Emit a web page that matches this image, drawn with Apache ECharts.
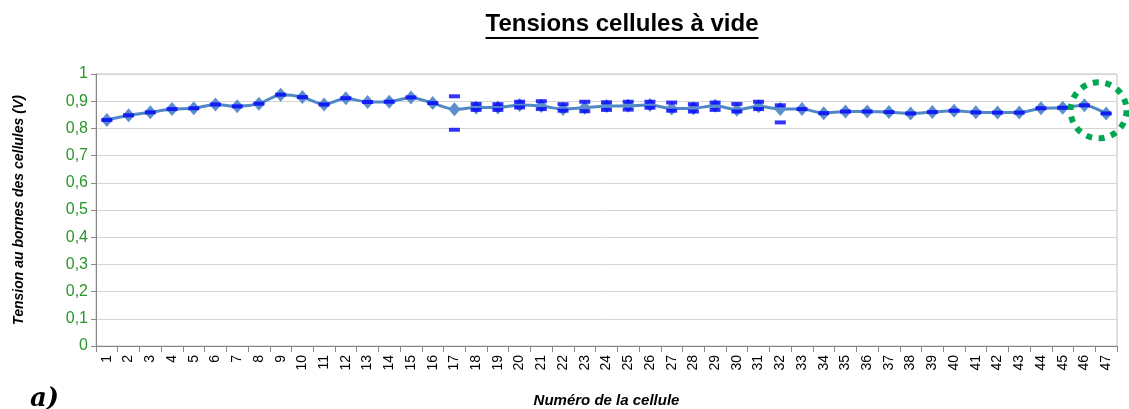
<!DOCTYPE html>
<html>
<head>
<meta charset="utf-8">
<script src="https://cdn.jsdelivr.net/npm/echarts@6/dist/echarts.min.js"></script>
<style>
  html, body { margin: 0; padding: 0; background: #fff; }
  #chart { width: 1129px; height: 409px; }
</style>
</head>
<body>
<div id="chart"></div>
<script>
// Numéros des cellules 1..47
const cellules = ['1','2','3','4','5','6','7','8','9','10','11','12','13','14','15','16','17','18','19','20','21','22','23','24','25','26','27','28','29','30','31','32','33','34','35','36','37','38','39','40','41','42','43','44','45','46','47'];

// Tension moyenne à vide par cellule (V)
const tension = [0.831,0.848,0.859,0.871,0.874,0.888,0.881,0.891,0.924,0.915,0.888,0.911,0.897,0.898,0.914,0.893,0.870,0.877,0.877,0.886,0.882,0.871,0.876,0.882,0.883,0.886,0.873,0.874,0.883,0.869,0.881,0.871,0.871,0.856,0.862,0.862,0.860,0.855,0.860,0.865,0.859,0.858,0.858,0.874,0.876,0.885,0.855];

// Mesure unique (cellules sans dispersion)
const mesure = [0.831,0.848,0.859,0.871,0.874,0.888,0.881,0.891,0.924,0.915,0.888,0.911,0.897,0.898,0.914,0.893,null,null,null,null,null,null,null,null,null,null,null,null,null,null,null,null,0.871,0.856,0.862,0.862,0.860,0.855,0.860,0.865,0.859,0.858,0.858,0.874,0.876,0.885,0.855];

// Mesures haute et basse (cellules 17 à 32)
const mesureHaute = [null,null,null,null,null,null,null,null,null,null,null,null,null,null,null,null,0.918,0.890,0.889,0.898,0.900,0.889,0.898,0.896,0.898,0.898,0.895,0.889,0.895,0.890,0.898,0.885,null,null,null,null,null,null,null,null,null,null,null,null,null,null,null];
const mesureBasse = [null,null,null,null,null,null,null,null,null,null,null,null,null,null,null,null,0.795,0.868,0.868,0.877,0.871,0.865,0.863,0.868,0.869,0.876,0.865,0.862,0.868,0.862,0.871,0.822,null,null,null,null,null,null,null,null,null,null,null,null,null,null,null];

// Graduations de l'axe des tensions
const yMin = 0, yMax = 1, yPas = 0.1;

// Cellules entourées
const cellulesEntourees = ['46', '47'];

const titre = 'Tensions cellules à vide';
const police = '"Liberation Sans", Arial, sans-serif';

const chart = echarts.init(document.getElementById('chart'), null, { renderer: 'canvas' });

const tiret = (data) => ({
  type: 'scatter',
  data: data,
  symbol: 'rect',
  symbolSize: [11, 4],
  itemStyle: { color: '#0000FF' },
  z: 5,
  silent: true
});

chart.setOption({
  animation: false,
  textStyle: { fontFamily: police },
  grid: {
    left: 96, right: 12, top: 74, bottom: 63,
    containLabel: false,
    outerBoundsMode: 'none',
    show: true, borderColor: '#C0C0C0', borderWidth: 1
  },
  xAxis: {
    type: 'category',
    data: cellules,
    boundaryGap: true,
    name: 'Numéro de la cellule',
    nameLocation: 'middle',
    nameGap: 47,
    nameTextStyle: { fontSize: 15, fontWeight: 'bold', fontStyle: 'italic', color: '#000' },
    axisLine: { lineStyle: { color: '#868686', width: 1 } },
    axisTick: { show: true, length: 6, lineStyle: { color: '#868686' }, interval: 0 },
    axisLabel: { interval: 0, rotate: 90, fontSize: 14, color: '#000', margin: 9 },
    splitLine: { show: false }
  },
  yAxis: {
    type: 'value',
    min: yMin, max: yMax, interval: yPas,
    name: 'Tension au bornes des cellules (V)',
    nameLocation: 'middle',
    nameGap: 70,
    nameTextStyle: { fontSize: 14, fontWeight: 'bold', fontStyle: 'italic', color: '#000' },
    axisLine: { show: true, lineStyle: { color: '#868686', width: 1 } },
    axisTick: { show: true, length: 5, lineStyle: { color: '#868686' } },
    axisLabel: {
      fontSize: 16, color: '#2A962A', margin: 8,
      formatter: (v) => (Math.round(v * 10) / 10).toString().replace('.', ',')
    },
    splitLine: { lineStyle: { color: '#D4D4D4', width: 1 } }
  },
  series: [
    {
      type: 'line',
      data: tension,
      smooth: 0.25,
      symbol: 'diamond',
      symbolSize: [12, 14],
      lineStyle: { color: '#4F87C7', width: 3 },
      itemStyle: { color: '#5A8ECC' },
      z: 3,
      silent: true
    },
    tiret(mesure),
    tiret(mesureHaute),
    tiret(mesureBasse)
  ]
});

// Titre souligné et annotations
const ctx = document.createElement('canvas').getContext('2d');
ctx.font = 'bold 24px ' + police;
const largeurTitre = ctx.measureText(titre).width;
const centreX = 622;

const iA = cellules.indexOf(cellulesEntourees[0]);
const iB = cellules.indexOf(cellulesEntourees[1]);
const pA = chart.convertToPixel({ xAxisIndex: 0, yAxisIndex: 0 }, [iA, tension[iA]]);
const pB = chart.convertToPixel({ xAxisIndex: 0, yAxisIndex: 0 }, [iB, tension[iB]]);
const cx = pA[0] + (pB[0] - pA[0]) * 0.65;
const cy = (pA[1] + pB[1]) / 2 + 1;

chart.setOption({
  graphic: [
    {
      type: 'text', left: centreX - largeurTitre / 2, top: 12,
      style: { text: titre, font: 'bold 24px ' + police, fill: '#000' }
    },
    {
      type: 'rect', shape: { x: centreX - largeurTitre / 2, y: 37, width: largeurTitre, height: 2 },
      style: { fill: '#000' }
    },
    {
      type: 'text', left: 30, top: 386,
      style: { text: 'a)', font: 'italic bold 26px "DejaVu Serif", serif', fill: '#000' }
    },
    {
      type: 'circle', shape: { cx: cx, cy: cy, r: 28 },
      style: { fill: null, stroke: '#00A651', lineWidth: 6, lineDash: [6, 6.6] },
      z: 100
    }
  ]
});
</script>
</body>
</html>
